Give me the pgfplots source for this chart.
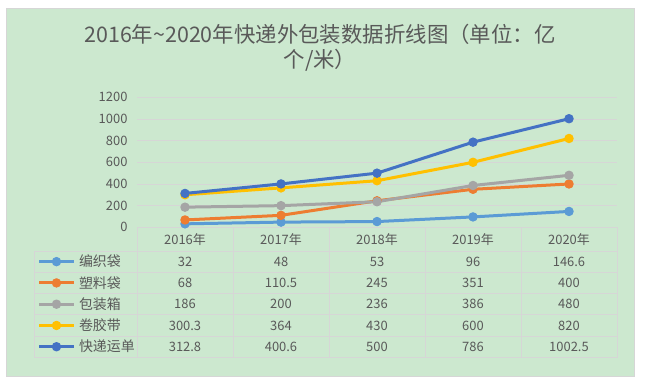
\documentclass[border=0pt]{standalone}
\usepackage{pgfplots}
\pgfplotsset{compat=1.18}
\usepackage{fontspec}
\setmainfont{Noto Sans CJK SC}
\definecolor{bg}{RGB}{204,232,207}
\definecolor{txt}{RGB}{89,89,89}
\definecolor{gridc}{RGB}{214,214,214}
\definecolor{c1}{RGB}{91,155,213}
\definecolor{c2}{RGB}{237,125,49}
\definecolor{c3}{RGB}{165,165,165}
\definecolor{c4}{RGB}{255,192,0}
\definecolor{c5}{RGB}{68,114,196}
\newcommand\rowvals[2]{\foreach \v [count=\i from 0] in {#2} {\node[font=\fontsize{13}{15}\selectfont, text=txt, anchor=center, inner sep=0pt] at ({185+96*\i},{#1}) {\v};}}
\begin{document}
\begin{tikzpicture}[x=1bp,y=1bp]
\fill[white] (0,0) rectangle (652,-382);
\filldraw[fill=bg, draw=gridc, line width=0.75bp] (6,-8) rectangle (634.3,-376);
\node[font=\fontsize{21.5}{25.5}\selectfont, text=txt, anchor=base, inner sep=0pt] at (320,-42) {2016年\textasciitilde 2020年快递外包装数据折线图（单位：亿};
\node[font=\fontsize{21.5}{25.5}\selectfont, text=txt, anchor=base, inner sep=0pt] at (320,-67.5) {个/米）};
\begin{axis}[
  at={(137bp,-227.3bp)}, anchor=south west,
  width=480bp, height=130bp, scale only axis,
  xmin=-0.5, xmax=4.5, ymin=0, ymax=1200,
  xtick={0,1,2,3,4},
  xticklabels={2016年,2017年,2018年,2019年,2020年},
  ytick={0,200,...,1200},
  ymajorgrids, grid style={gridc, line width=0.75bp},
  axis line style={draw=none}, major tick length=0pt,
  tick label style={font=\fontsize{13}{15}\selectfont, color=txt},
  yticklabel style={anchor=east, xshift=-6bp},
  xticklabel style={anchor=center, yshift=-12bp},
  /pgf/number format/assume math mode=true,
  /pgf/number format/1000 sep={},
  clip=false,
  legend cell align=left,
  legend style={at={(-0.20625,-0.18231)}, anchor=north west, draw=none, fill=none,
    inner sep=0pt, outer sep=0pt, row sep=0pt, column sep=0pt,
    font=\fontsize{14}{16}\selectfont, text=txt,
    nodes={inner sep=0pt, outer sep=0pt, minimum height=21.27bp, anchor=west}},
  legend image code/.code={
    \draw[#1, mark repeat=2, mark phase=2] plot coordinates {(0bp,0bp) (17bp,0bp) (34bp,0bp)};
    \path (38bp,0bp);
  },
  every axis plot/.append style={line width=3bp, line join=round, mark=*, mark size=4.2bp, mark options={line width=1bp, solid}},
]
\addplot[c1] coordinates {(0,32) (1,48) (2,53) (3,96) (4,146.6)};
\addlegendentry{编织袋}
\addplot[c2] coordinates {(0,68) (1,110.5) (2,245) (3,351) (4,400)};
\addlegendentry{塑料袋}
\addplot[c3] coordinates {(0,186) (1,200) (2,236) (3,386) (4,480)};
\addlegendentry{包装箱}
\addplot[c4] coordinates {(0,300.3) (1,364) (2,430) (3,600) (4,820)};
\addlegendentry{卷胶带}
\addplot[c5] coordinates {(0,312.8) (1,400.6) (2,500) (3,786) (4,1002.5)};
\addlegendentry{快递运单}
\end{axis}
% data table grid
\foreach \xx in {137,233,329,425,521,617} {\draw[gridc, line width=0.75bp] (\xx,-227.3) -- (\xx,-357.6);}
\draw[gridc, line width=0.75bp] (34,-251) -- (34,-357.6);
\foreach \yy in {-251,-272.27,-293.54,-314.81,-336.08,-357.35} {\draw[gridc, line width=0.75bp] (34,\yy) -- (617,\yy);}
\rowvals{-261.64}{32,48,53,96,146.6}
\rowvals{-282.91}{68,110.5,245,351,400}
\rowvals{-304.18}{186,200,236,386,480}
\rowvals{-325.45}{300.3,364,430,600,820}
\rowvals{-346.72}{312.8,400.6,500,786,1002.5}
\end{tikzpicture}
\end{document}
